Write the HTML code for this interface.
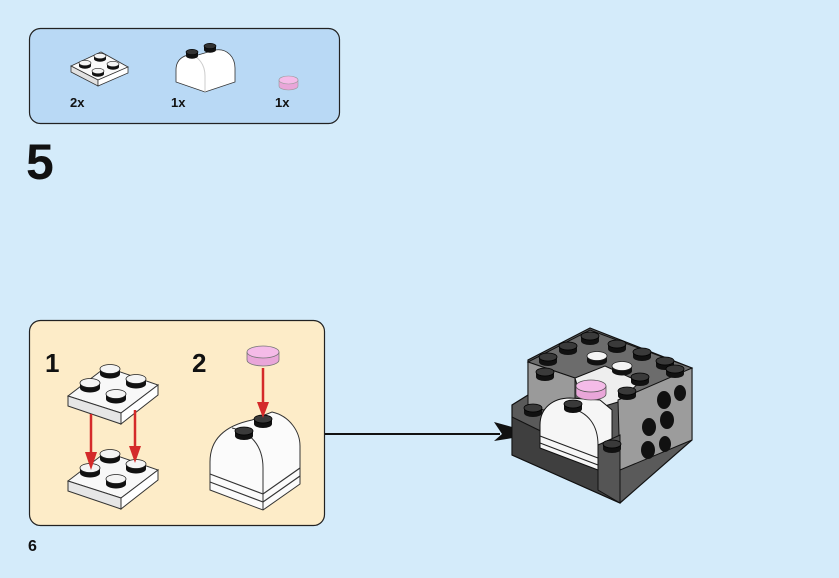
<!DOCTYPE html>
<html><head><meta charset="utf-8"><style>
html,body{margin:0;padding:0;background:#d4ebfa;width:839px;height:578px;overflow:hidden}
svg{display:block}
text{font-family:"Liberation Sans",Arial,sans-serif;font-weight:bold;fill:#111}
</style></head><body>
<svg width="839" height="578" viewBox="0 0 839 578" xmlns="http://www.w3.org/2000/svg">
<defs>
<g id="stud"><path d="M-10,0 L-10,5 A10,4.5 0 0 0 10,5 L10,0 Z" fill="#111"/><ellipse cx="0" cy="0" rx="10" ry="4.5" fill="#f4f4f4" stroke="#222" stroke-width="0.8"/></g>
<g id="bstud"><path d="M-9,0 L-9,5 A9,4 0 0 0 9,5 L9,0 Z" fill="#111"/><ellipse cx="0" cy="0" rx="9" ry="4" fill="#3a3a3a" stroke="#000" stroke-width="0.8"/></g>
<g id="sbstud"><path d="M-6,0 L-6,4 A6,2.7 0 0 0 6,4 L6,0 Z" fill="#111"/><ellipse cx="0" cy="0" rx="6" ry="2.7" fill="#333" stroke="#000" stroke-width="0.6"/></g>
<g id="sstud"><path d="M-6,0 L-6,3 A6,2.7 0 0 0 6,3 L6,0 Z" fill="#111"/><ellipse cx="0" cy="0" rx="6" ry="2.7" fill="#f4f4f4" stroke="#222" stroke-width="0.6"/></g>
</defs>

<rect x="29.5" y="28.5" width="310" height="95" rx="11" fill="#b9d9f5" stroke="#222" stroke-width="1.2"/>
<path d="M71,66 L101,52 L128,67 L98,80 Z" fill="#fafafa" stroke="#333" stroke-width="0.8"/>
<path d="M71,66 L98,80 L98,86 L71,72 Z" fill="#e2e2e2" stroke="#333" stroke-width="0.8"/>
<path d="M98,80 L128,67 L128,73 L98,86 Z" fill="#ffffff" stroke="#333" stroke-width="0.8"/>
<use href="#sstud" x="100" y="56"/><use href="#sstud" x="113" y="64"/><use href="#sstud" x="85" y="63"/><use href="#sstud" x="98" y="71"/>
<path d="M176,70 C176,58 186,53 198,55 L215,50 C228,48 235,58 235,68 L235,82 L205,92 L176,82 Z" fill="#fff" stroke="#333" stroke-width="0.8"/>
<path d="M205,92 L205,76 C205,64 198,56 190,55" fill="none" stroke="#ccc" stroke-width="1"/>
<use href="#sbstud" x="192" y="52"/>
<use href="#sbstud" x="210" y="46"/>
<path d="M279,80 L279,86 A9.5,4 0 0 0 298,86 L298,80 Z" fill="#e9a6d9" stroke="#999" stroke-width="0.6"/>
<ellipse cx="288.5" cy="80" rx="9.5" ry="4" fill="#f5bbe8" stroke="#999" stroke-width="0.6"/>
<text x="70" y="107" font-size="13">2x</text>
<text x="171" y="107" font-size="13">1x</text>
<text x="275" y="107" font-size="13">1x</text>

<text x="26" y="179" font-size="50">5</text>

<rect x="29.5" y="320.5" width="295" height="205" rx="11" fill="#fdecc8" stroke="#222" stroke-width="1.2"/>
<text x="45" y="372" font-size="26">1</text>
<text x="192" y="372" font-size="26">2</text>
<g>
<path d="M68,396 L106,367 L158,385 L121,413 Z" fill="#f8f8f8" stroke="#333"/>
<path d="M68,396 L121,413 L121,424 L68,406 Z" fill="#e6e6e6" stroke="#333"/>
<path d="M121,413 L158,385 L158,395 L121,424 Z" fill="#fff" stroke="#333"/>
<use href="#stud" x="110" y="369"/><use href="#stud" x="136" y="379"/><use href="#stud" x="90" y="383"/><use href="#stud" x="116" y="394"/>
</g>
<g transform="translate(0,85)">
<path d="M68,396 L106,367 L158,385 L121,413 Z" fill="#f8f8f8" stroke="#333"/>
<path d="M68,396 L121,413 L121,424 L68,406 Z" fill="#e6e6e6" stroke="#333"/>
<path d="M121,413 L158,385 L158,395 L121,424 Z" fill="#fff" stroke="#333"/>
<use href="#stud" x="110" y="369"/><use href="#stud" x="136" y="379"/><use href="#stud" x="90" y="383"/><use href="#stud" x="116" y="394"/>
</g>
<g stroke="#d42a2a" stroke-width="2.5"><line x1="91" y1="414" x2="91" y2="455"/><line x1="135" y1="410" x2="135" y2="448"/></g>
<path d="M85,452 L97,452 L91,470 Z M129,446 L141,446 L135,463 Z" fill="#d42a2a"/>
<path d="M210,462 C210,437 228,425 252,420 L272,412 C290,416 300,432 300,446 L300,484 L263,510 L210,490 Z" fill="#fbfbfb" stroke="#333"/>
<path d="M263,510 L263,468 C263,445 250,432 232,428" fill="none" stroke="#333" stroke-width="1"/>
<path d="M210,474 L263,494 L300,468 M210,482 L263,502 L300,476" fill="none" stroke="#333" stroke-width="1.2"/>
<use href="#bstud" x="244" y="431"/><use href="#bstud" x="263" y="419"/>
<line x1="263" y1="368" x2="263" y2="404" stroke="#d42a2a" stroke-width="2.5"/>
<path d="M257,402 L269,402 L263,418 Z" fill="#d42a2a"/>
<path d="M247,352 L247,360 A16,6 0 0 0 279,360 L279,352 Z" fill="#e9a6d9" stroke="#777" stroke-width="0.8"/>
<ellipse cx="263" cy="352" rx="16" ry="6" fill="#f5bbe8" stroke="#777" stroke-width="0.8"/>

<text x="28" y="551" font-size="16">6</text>

<line x1="325" y1="434" x2="500" y2="434" stroke="#111" stroke-width="2"/>
<path d="M494,422 L538,434 L494,441 L502,434 Z" fill="#111"/>

<path d="M512,417 L512,455 L620,503 L692,440 L692,368 L590,328 L528,360 L528,395 L512,405 Z" fill="#5a5a5a" stroke="#111" stroke-width="1.2"/>
<path d="M528,362 L590,330 L692,368 L630,398 L575,378 Z" fill="#6c6c6c" stroke="#111"/>
<path d="M528,362 L528,405 L575,420 L575,378 Z" fill="#9a9a9a" stroke="#111"/>
<path d="M575,378 L605,366 L640,382 L618,402 L585,412 Z" fill="#eeeeee" stroke="#111"/>
<path d="M618,400 L692,368 L692,440 L620,470 Z" fill="#9c9c9c" stroke="#111"/>
<path d="M512,417 L600,460 L620,448 L620,503 L512,455 Z" fill="#3f3f3f" stroke="#111"/>
<path d="M540,425 C540,408 553,398 570,398 L600,400 L612,410 L612,458 L598,470 L540,448 Z" fill="#f6f6f6" stroke="#111"/>
<path d="M540,436 L598,458 M540,443 L598,465" stroke="#222" stroke-width="1.2"/>
<path d="M598,470 L598,445 C598,425 588,412 570,408" fill="none" stroke="#222"/>
<path d="M598,445 L620,435 L620,503 L598,490 Z" fill="#555" stroke="#111"/>
<g>
<use href="#bstud" x="590" y="336"/><use href="#bstud" x="617" y="344"/><use href="#bstud" x="642" y="352"/><use href="#bstud" x="665" y="361"/>
<use href="#bstud" x="568" y="346"/><use href="#bstud" x="548" y="357"/><use href="#bstud" x="545" y="372"/><use href="#bstud" x="675" y="369"/>
<use href="#stud" x="597" y="356"/><use href="#stud" x="622" y="366"/>
<use href="#bstud" x="640" y="377"/><use href="#bstud" x="627" y="391"/>
<use href="#bstud" x="533" y="408"/><use href="#bstud" x="573" y="404"/><use href="#bstud" x="612" y="444"/>
</g>
<g fill="#111"><ellipse cx="664" cy="400" rx="7" ry="9"/><ellipse cx="680" cy="393" rx="6" ry="8"/><ellipse cx="649" cy="427" rx="7" ry="9"/><ellipse cx="667" cy="420" rx="7" ry="9"/><ellipse cx="648" cy="450" rx="7" ry="9"/><ellipse cx="665" cy="444" rx="6" ry="8"/></g>
<path d="M576,386 L576,394 A15,6 0 0 0 606,394 L606,386 Z" fill="#e9a6d9" stroke="#555" stroke-width="0.8"/>
<ellipse cx="591" cy="386" rx="15" ry="6" fill="#f5bbe8" stroke="#555" stroke-width="0.8"/>
</svg>
</body></html>
